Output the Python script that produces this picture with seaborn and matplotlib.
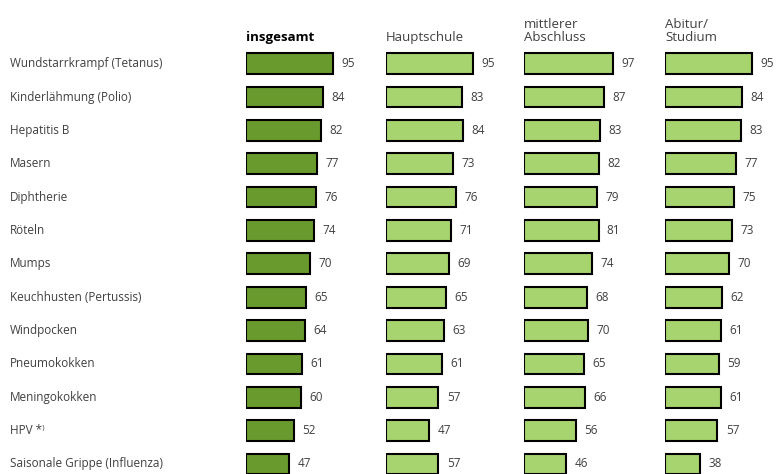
import numpy as np
import pandas as pd
import matplotlib
matplotlib.use("Agg")
import matplotlib.pyplot as plt
import matplotlib.transforms as mtransforms
import seaborn as sns

impfungen = [
    "Wundstarrkrampf (Tetanus)", "Kinderlähmung (Polio)", "Hepatitis B", "Masern",
    "Diphtherie", "Röteln", "Mumps", "Keuchhusten (Pertussis)", "Windpocken",
    "Pneumokokken", "Meningokokken", "HPV *⁾", "Saisonale Grippe (Influenza)",
]
insgesamt = [95, 84, 82, 77, 76, 74, 70, 65, 64, 61, 60, 52, 47]
hauptschule = [95, 83, 84, 73, 76, 71, 69, 65, 63, 61, 57, 47, 57]
mittlerer = [97, 87, 83, 82, 79, 81, 74, 68, 70, 65, 66, 56, 46]
abitur = [95, 84, 83, 77, 75, 73, 70, 62, 61, 59, 61, 57, 38]

gruppen = ["insgesamt", "Hauptschule", "mittlerer\nAbschluss", "Abitur/\nStudium"]
werte = [insgesamt, hauptschule, mittlerer, abitur]
farben = ["#699a2e", "#a8d46f", "#a8d46f", "#a8d46f"]

sns.set_style("white")
plt.rcParams["font.family"] = ["Open Sans", "DejaVu Sans"]

W, H = 777, 474
fig = plt.figure(figsize=(W / 100, H / 100), dpi=100)

starts = [246, 386, 524, 665]
top_px, bot_px = 47, 474
px_per_unit = 0.92

for i, (name, vals, col) in enumerate(zip(gruppen, werte, farben)):
    left = starts[i] / W
    width = 100 * px_per_unit / W
    ax = fig.add_axes([left, 1 - bot_px / H, width, (bot_px - top_px) / H])
    df = pd.DataFrame({"impfung": impfungen, "wert": vals})
    sns.barplot(data=df, x="wert", y="impfung", color=col, saturation=1,
                edgecolor="black", linewidth=1.5, width=0.62, ax=ax, orient="h")
    ax.set_xlim(0, 100)
    ax.set_ylim(12.3, -0.5)
    ax.bar_label(ax.containers[0], padding=6, fontsize=8.5, color="#404040")
    ax.axis("off")
    for t in ax.texts:
        t.set_clip_on(False)
    weight = "bold" if i == 0 else "normal"
    fig.text(left, 1 - 44 / H, name, ha="left", va="bottom", fontsize=9.5,
             color="black" if i == 0 else "#404040", weight=weight, linespacing=0.95)
    if i == 0:
        trans = mtransforms.blended_transform_factory(fig.transFigure, ax.transData)
        for j, lab in enumerate(impfungen):
            ax.text(10 / W, j, lab, transform=trans, ha="left", va="center",
                    fontsize=8.5, color="#404040", clip_on=False)

fig.savefig("out.png", dpi=100)
